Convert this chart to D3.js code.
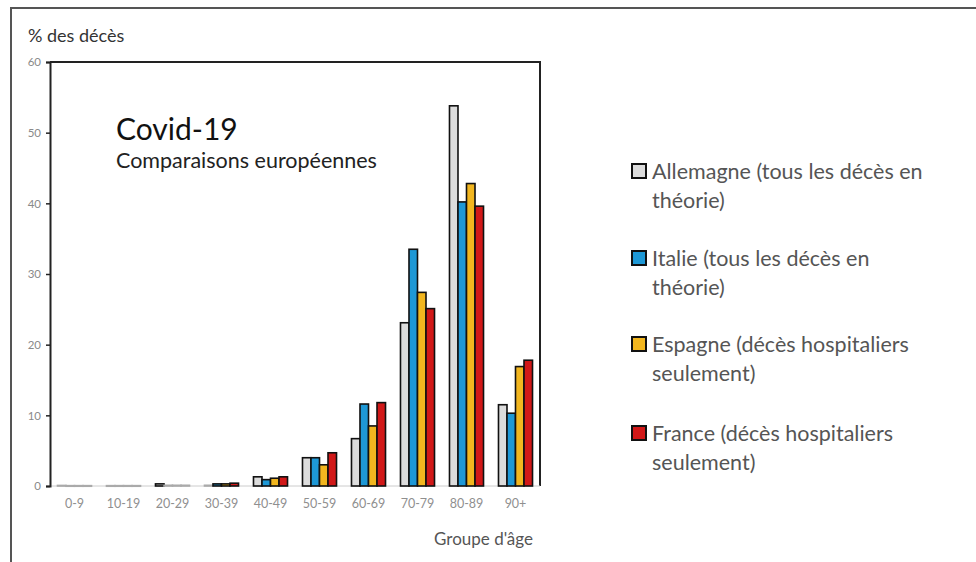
<!DOCTYPE html>
<html>
<head>
<meta charset="utf-8">
<script src="https://cdn.jsdelivr.net/npm/d3@7"></script>
<style>
  body { margin: 0; background: #fff; }
  text { font-family: Lato, "Open Sans", sans-serif; }
</style>
</head>
<body>
<svg width="976" height="562"></svg>
<script>
// data (% of deaths per age group)
var ageGroups = ["0-9", "10-19", "20-29", "30-39", "40-49", "50-59", "60-69", "70-79", "80-89", "90+"];
var allemagne = [0.08, 0.05, 0.3, 0.1, 1.3, 4.0, 6.7, 23.1, 53.8, 11.5];
var italie    = [0.05, 0.05, 0.1, 0.3, 0.9, 4.0, 11.6, 33.5, 40.2, 10.3];
var espagne   = [0.05, 0.05, 0.1, 0.3, 1.1, 3.0, 8.5, 27.4, 42.8, 16.9];
var france    = [0.05, 0.05, 0.1, 0.4, 1.3, 4.7, 11.8, 25.1, 39.6, 17.8];
var yTicks = [0, 10, 20, 30, 40, 50, 60];

var seriesNames = [
  ["Allemagne (tous les décès en", "théorie)"],
  ["Italie (tous les décès en", "théorie)"],
  ["Espagne (décès hospitaliers", "seulement)"],
  ["France (décès hospitaliers", "seulement)"]
];
var seriesValues = [allemagne, italie, espagne, france];
var seriesColors = ["#dcdcdc", "#1e98d6", "#f2b61f", "#d11818"];

var svg = d3.select("svg");

// outer frame
svg.append("rect")
  .attr("x", 11).attr("y", 8)
  .attr("width", 1000).attr("height", 600)
  .attr("fill", "none")
  .attr("stroke", "#555")
  .attr("stroke-width", 2);

// plot area (note: "top" is reserved on window, so use pTop etc.)
var pLeft = 50, pRight = 540, pTop = 62, pBottom = 486;

var x = d3.scaleBand()
  .domain(ageGroups)
  .range([pLeft, pRight]);

var xInner = d3.scaleBand()
  .domain(d3.range(4))
  .range([0, x.bandwidth()])
  .paddingInner(0)
  .paddingOuter(0.88);

var y = d3.scaleLinear()
  .domain([0, 60])
  .range([pBottom, pTop]);

// plot box (top + right)
svg.append("path")
  .attr("d", "M" + pLeft + "," + pTop + "H" + pRight + "V" + pBottom)
  .attr("fill", "none")
  .attr("stroke", "#222")
  .attr("stroke-width", 2);

// x baseline
svg.append("line")
  .attr("x1", pLeft).attr("x2", pRight)
  .attr("y1", pBottom).attr("y2", pBottom)
  .attr("stroke", "#ccc")
  .attr("stroke-width", 1);

// y axis
var yAxis = svg.append("g")
  .attr("transform", "translate(" + pLeft + ",0)")
  .call(d3.axisLeft(y).tickValues(yTicks).tickSize(4).tickPadding(5));
yAxis.select(".domain").attr("stroke", "#222").attr("stroke-width", 2);
yAxis.selectAll(".tick line").attr("stroke", "#222").attr("stroke-width", 1.5);
yAxis.selectAll(".tick text")
  .attr("fill", "#8a8a8a")
  .attr("font-size", 11.5);

// x axis labels
var xAxis = svg.append("g")
  .attr("transform", "translate(0," + pBottom + ")")
  .call(d3.axisBottom(x).tickSize(0).tickPadding(13));
xAxis.select(".domain").remove();
xAxis.selectAll(".tick text")
  .attr("fill", "#8f8f8f")
  .attr("font-size", 12.5);

// bars
var groups = svg.append("g").selectAll("g")
  .data(ageGroups)
  .enter().append("g")
  .attr("transform", function(d) { return "translate(" + x(d) + ",0)"; });

groups.selectAll("rect")
  .data(function(d, i) { return seriesValues.map(function(s, k) { return { k: k, v: s[i] }; }); })
  .enter().append("rect")
  .attr("x", function(d) { return xInner(d.k); })
  .attr("width", xInner.bandwidth())
  .attr("y", function(d) { return y(d.v); })
  .attr("height", function(d) { return Math.max(0.6, pBottom - y(d.v)); })
  .attr("fill", function(d) { return seriesColors[d.k]; })
  .attr("stroke", function(d) { return d.v < 0.2 ? "#aaa" : "#111"; })
  .attr("stroke-width", 1.6);

// titles
svg.append("text")
  .attr("x", 28).attr("y", 42)
  .attr("font-size", 18)
  .attr("fill", "#333")
  .text("% des décès");

svg.append("text")
  .attr("x", 116).attr("y", 140)
  .attr("font-size", 30)
  .attr("fill", "#111")
  .text("Covid-19");

svg.append("text")
  .attr("x", 116).attr("y", 168)
  .attr("font-size", 21.5)
  .attr("fill", "#222")
  .text("Comparaisons européennes");

svg.append("text")
  .attr("x", 533).attr("y", 545)
  .attr("text-anchor", "end")
  .attr("font-size", 17)
  .attr("fill", "#555")
  .text("Groupe d'âge");

// legend
var legendY = [179, 266, 352, 441];
var legend = svg.append("g").selectAll("g")
  .data(seriesNames)
  .enter().append("g")
  .attr("transform", function(d, i) { return "translate(632," + legendY[i] + ")"; });

legend.append("rect")
  .attr("x", 0).attr("y", -15)
  .attr("width", 14).attr("height", 14)
  .attr("fill", function(d, i) { return seriesColors[i]; })
  .attr("stroke", "#111")
  .attr("stroke-width", 2);

legend.append("text")
  .attr("x", 20).attr("y", 0)
  .attr("font-size", 21.5)
  .attr("fill", "#555")
  .text(function(d) { return d[0]; });

legend.append("text")
  .attr("x", 20).attr("y", 29)
  .attr("font-size", 21.5)
  .attr("fill", "#555")
  .text(function(d) { return d[1]; });
</script>
</body>
</html>
